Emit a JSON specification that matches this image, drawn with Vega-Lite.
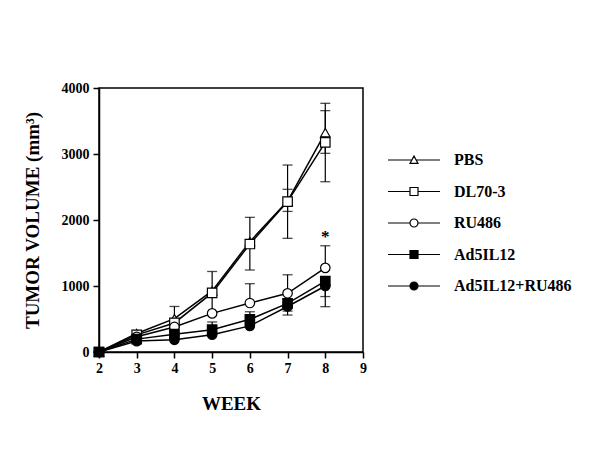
{
  "$schema": "https://vega.github.io/schema/vega-lite/v6.json",
  "width": 264,
  "height": 264,
  "autosize": {"type": "none"},
  "padding": {"left": 99, "top": 88, "right": 237, "bottom": 98},
  "background": "white",
  "config": {
    "font": "Liberation Serif",
    "view": {"stroke": "black", "strokeWidth": 1.5},
    "axis": {
      "grid": false,
      "domainColor": "black",
      "domainWidth": 1.5,
      "tickColor": "black",
      "tickWidth": 1.5,
      "tickSize": 6,
      "labelFont": "Liberation Serif",
      "labelFontWeight": "bold",
      "labelFontSize": 14,
      "labelColor": "black",
      "titleFont": "Liberation Serif",
      "titleFontWeight": "bold",
      "titleFontSize": 19,
      "titleColor": "black"
    }
  },
  "datasets": {
    "means": [
      {"series": "PBS", "week": 2, "v": 0},
      {"series": "PBS", "week": 3, "v": 280},
      {"series": "PBS", "week": 4, "v": 505},
      {"series": "PBS", "week": 5, "v": 925},
      {"series": "PBS", "week": 6, "v": 1672},
      {"series": "PBS", "week": 7, "v": 2288},
      {"series": "PBS", "week": 8, "v": 3323},
      {"series": "DL70-3", "week": 2, "v": 0},
      {"series": "DL70-3", "week": 3, "v": 260},
      {"series": "DL70-3", "week": 4, "v": 440},
      {"series": "DL70-3", "week": 5, "v": 895},
      {"series": "DL70-3", "week": 6, "v": 1636},
      {"series": "DL70-3", "week": 7, "v": 2278},
      {"series": "DL70-3", "week": 8, "v": 3177},
      {"series": "RU486", "week": 2, "v": 0},
      {"series": "RU486", "week": 3, "v": 230},
      {"series": "RU486", "week": 4, "v": 380},
      {"series": "RU486", "week": 5, "v": 585},
      {"series": "RU486", "week": 6, "v": 742},
      {"series": "RU486", "week": 7, "v": 889},
      {"series": "RU486", "week": 8, "v": 1275},
      {"series": "Ad5IL12", "week": 2, "v": 0},
      {"series": "Ad5IL12", "week": 3, "v": 195},
      {"series": "Ad5IL12", "week": 4, "v": 270},
      {"series": "Ad5IL12", "week": 5, "v": 338},
      {"series": "Ad5IL12", "week": 6, "v": 495},
      {"series": "Ad5IL12", "week": 7, "v": 737},
      {"series": "Ad5IL12", "week": 8, "v": 1075},
      {"series": "Ad5IL12+RU486", "week": 2, "v": 0},
      {"series": "Ad5IL12+RU486", "week": 3, "v": 165},
      {"series": "Ad5IL12+RU486", "week": 4, "v": 185},
      {"series": "Ad5IL12+RU486", "week": 5, "v": 262},
      {"series": "Ad5IL12+RU486", "week": 6, "v": 396},
      {"series": "Ad5IL12+RU486", "week": 7, "v": 690},
      {"series": "Ad5IL12+RU486", "week": 8, "v": 1000}
    ],
    "whiskers": [
      {"series": "PBS", "week": 4, "v": 505, "end": 690},
      {"series": "PBS", "week": 5, "v": 925, "end": 1220},
      {"series": "PBS", "week": 6, "v": 1672, "end": 2040},
      {"series": "PBS", "week": 7, "v": 2288, "end": 2833},
      {"series": "PBS", "week": 7, "v": 2288, "end": 2130},
      {"series": "PBS", "week": 8, "v": 3323, "end": 3768},
      {"series": "PBS", "week": 8, "v": 3323, "end": 3010},
      {"series": "DL70-3", "week": 5, "v": 895, "end": 600},
      {"series": "DL70-3", "week": 6, "v": 1636, "end": 1242},
      {"series": "DL70-3", "week": 7, "v": 2278, "end": 2465},
      {"series": "DL70-3", "week": 7, "v": 2278, "end": 1722},
      {"series": "DL70-3", "week": 8, "v": 3177, "end": 3657},
      {"series": "DL70-3", "week": 8, "v": 3177, "end": 2580},
      {"series": "RU486", "week": 6, "v": 742, "end": 1035},
      {"series": "RU486", "week": 7, "v": 889, "end": 1170},
      {"series": "RU486", "week": 8, "v": 1275, "end": 1610},
      {"series": "Ad5IL12", "week": 5, "v": 338, "end": 455},
      {"series": "Ad5IL12", "week": 6, "v": 495, "end": 610},
      {"series": "Ad5IL12", "week": 7, "v": 737, "end": 620},
      {"series": "Ad5IL12", "week": 8, "v": 1075, "end": 840},
      {"series": "Ad5IL12+RU486", "week": 7, "v": 690, "end": 560},
      {"series": "Ad5IL12+RU486", "week": 8, "v": 1000, "end": 687}
    ],
    "star": [{"week": 8, "v": 1740, "label": "*"}]
  },
  "encoding": {
    "x": {
      "field": "week",
      "type": "quantitative",
      "scale": {"domain": [2, 9], "nice": false, "zero": false},
      "axis": {"values": [2, 3, 4, 5, 6, 7, 8, 9], "title": "WEEK", "labelPadding": 3, "titlePadding": 19, "labelFlush": false}
    },
    "y": {
      "field": "v",
      "type": "quantitative",
      "scale": {"domain": [0, 4000], "nice": false},
      "axis": {"values": [0, 1000, 2000, 3000, 4000], "format": "d", "title": "TUMOR VOLUME (mm³)", "labelPadding": 4, "titlePadding": 19, "labelFlush": false}
    }
  },
  "layer": [
    {
      "data": {"name": "whiskers"},
      "mark": {"type": "rule", "color": "black", "strokeWidth": 1.2},
      "encoding": {"y2": {"field": "end"}}
    },
    {
      "data": {"name": "whiskers"},
      "mark": {"type": "tick", "orient": "horizontal", "color": "black", "size": 10, "thickness": 1.3},
      "encoding": {"y": {"field": "end", "type": "quantitative"}}
    },
    {
      "data": {"name": "means"},
      "mark": {"type": "line", "color": "black", "strokeWidth": 1.5},
      "encoding": {"detail": {"field": "series"}}
    },
    {
      "data": {"name": "means"},
      "mark": {"type": "point", "stroke": "black", "strokeWidth": 1.2, "size": 90, "opacity": 1},
      "encoding": {
        "shape": {
          "field": "series",
          "scale": {"domain": ["PBS", "DL70-3", "RU486", "Ad5IL12", "Ad5IL12+RU486"], "range": ["triangle-up", "square", "circle", "square", "circle"]},
          "legend": null
        },
        "fill": {
          "field": "series",
          "scale": {"domain": ["PBS", "DL70-3", "RU486", "Ad5IL12", "Ad5IL12+RU486"], "range": ["white", "white", "white", "black", "black"]},
          "legend": null
        }
      }
    },
    {
      "data": {"name": "star"},
      "mark": {"type": "text", "font": "Liberation Serif", "fontWeight": "bold", "fontSize": 17, "color": "black", "baseline": "middle"},
      "encoding": {"text": {"field": "label"}}
    },
    {
      "data": {"name": "means"},
      "transform": [{"filter": "false"}],
      "mark": {"type": "point", "stroke": "black", "strokeWidth": 1.2, "opacity": 1},
      "encoding": {
        "x": null,
        "y": null,
        "shape": {
          "field": "series",
          "scale": {
            "domain": ["PBS", "DL70-3", "RU486", "Ad5IL12", "Ad5IL12+RU486"],
            "range": [
              "M-6.5,0H-0.54M0.54,0H6.5M0,-1L1,0.85L-1,0.85Z",
              "M-6.5,0H-1M1,0H6.5M-1,-1H1V1H-1Z",
              "M-6.5,0H-1M1,0H6.5M-1,0A1,1,0,1,1,1,0A1,1,0,1,1,-1,0Z",
              "M-6.5,0H-1M1,0H6.5M-1,-1H1V1H-1Z",
              "M-6.5,0H-1M1,0H6.5M-1,0A1,1,0,1,1,1,0A1,1,0,1,1,-1,0Z"
            ]
          },
          "legend": {
            "title": null, "orient": "none", "legendX": 307, "legendY": 64, "padding": 0,
            "symbolSize": 64, "symbolStrokeWidth": 1.2, "symbolStrokeColor": "black", "symbolOpacity": 1,
            "labelOffset": 32, "rowPadding": 15.5, "labelFont": "Liberation Serif", "labelFontWeight": "bold",
            "labelFontSize": 16, "labelColor": "black", "labelLimit": 300,
            "encode": {"symbols": {"update": {"stroke": {"value": "black"}, "strokeWidth": {"value": 1.2}, "opacity": {"value": 1}}}}
          }
        },
        "fill": {
          "field": "series",
          "scale": {"domain": ["PBS", "DL70-3", "RU486", "Ad5IL12", "Ad5IL12+RU486"], "range": ["white", "white", "white", "black", "black"]},
          "legend": {
            "title": null, "orient": "none", "legendX": 307, "legendY": 64, "padding": 0,
            "symbolSize": 64, "symbolStrokeWidth": 1.2, "symbolStrokeColor": "black", "symbolOpacity": 1,
            "labelOffset": 32, "rowPadding": 15.5, "labelFont": "Liberation Serif", "labelFontWeight": "bold",
            "labelFontSize": 16, "labelColor": "black", "labelLimit": 300,
            "encode": {"symbols": {"update": {"stroke": {"value": "black"}, "strokeWidth": {"value": 1.2}, "opacity": {"value": 1}}}}
          }
        }
      }
    }
  ],
  "resolve": {"scale": {"shape": "independent", "fill": "independent"}}
}
